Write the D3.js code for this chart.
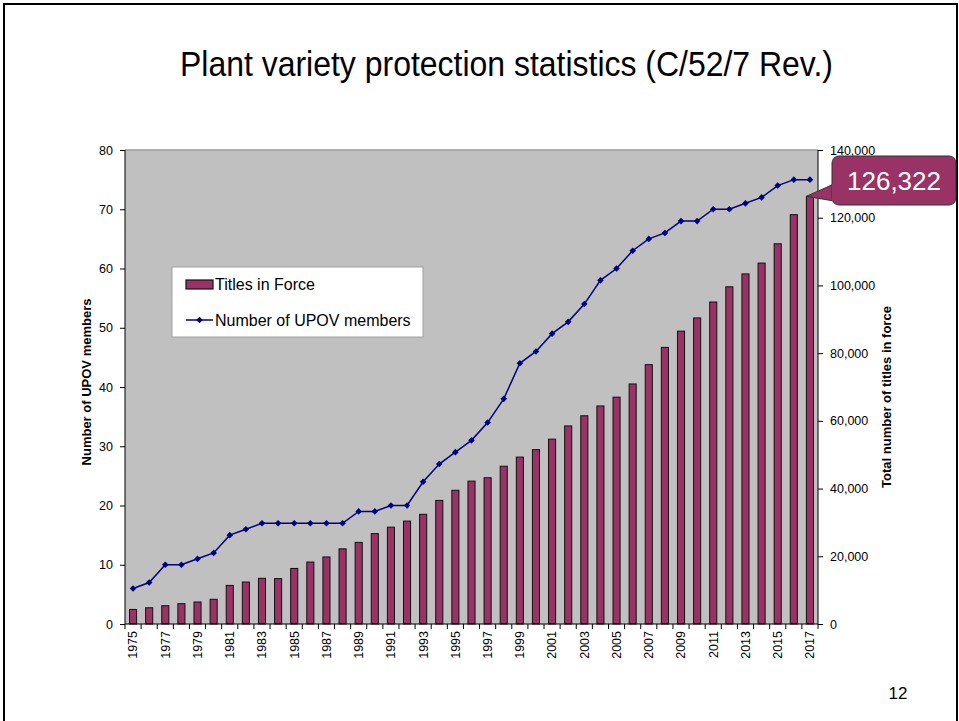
<!DOCTYPE html>
<html>
<head>
<meta charset="utf-8">
<script src="https://cdn.jsdelivr.net/npm/d3@7"></script>
<style>
  body { margin: 0; background: #fff; }
  svg { display: block; font-family: Arial, "Liberation Sans", sans-serif; }
  .axis text { font-size: 12.5px; fill: #000; }
  .axis path, .axis line { stroke: #000; }
  .xaxis text { font-size: 12.5px; }
</style>
</head>
<body>
<div id="chart"></div>
<script>
// data
let years = d3.range(1975, 2018).map(String)
let members = [6,7,10,10,11,12,
               15,16,17,17,17,17,17,17,
               19,19,20,20,24,27,29,31,
               34,38,44,46,49,51,54,58,
               60,63,65,66,68,68,70,70,
               71,72,74,75,75]
let titles = [4300,4800,5400,6000,6500,7300,
              11400,12400,13500,13400,16400,18300,19800,22200,
              24100,26700,28600,30400,32400,36500,39500,42200,
              43200,46600,49300,51500,54600,58500,61500,64400,
              67000,70900,76600,81700,86500,90400,95100,99600,
              103400,106600,112300,120900,126322]
let leftTicks = [0,10,20,30,40,50,60,70,80]
let rightTicks = [0,20000,40000,60000,80000,100000,120000,140000]
let seriesNames = ["Titles in Force", "Number of UPOV members"]
let callout = "126,322"

let barColor = "#993366", lineColor = "#000080"

let W = 959, H = 721
let margin = {top: 150, left: 125, right: 141, bottom: 97}
let width = W - margin.left - margin.right,
    height = H - margin.top - margin.bottom

let svg = d3.select("#chart").append("svg")
  .attr("width", W).attr("height", H)

// slide frame
svg.append("rect")
  .attr("x", 4).attr("y", 4).attr("width", 953).attr("height", 740)
  .attr("fill", "none").attr("stroke", "#000").attr("stroke-width", 2)

svg.append("text")
  .attr("x", 180).attr("y", 76)
  .attr("textLength", 653).attr("lengthAdjust", "spacingAndGlyphs")
  .style("font-size", "35px")
  .text("Plant variety protection statistics (C/52/7 Rev.)")

svg.append("text")
  .attr("x", 898).attr("y", 699)
  .attr("text-anchor", "middle")
  .style("font-size", "17px")
  .text("12")

let g = svg.append("g")
  .attr("transform", "translate(" + margin.left + "," + margin.top + ")")

let x = d3.scaleBand().domain(years).range([0, width]).padding(0)
let yL = d3.scaleLinear().domain([0, 80]).range([height, 0])
let yR = d3.scaleLinear().domain([0, 140000]).range([height, 0])

// plot area
g.append("rect")
  .attr("width", width).attr("height", height)
  .attr("fill", "#c0c0c0")
g.append("line")
  .attr("x1", 0).attr("x2", width).attr("y1", 0).attr("y2", 0)
  .attr("stroke", "#9a9a9a").attr("stroke-width", 1.5)

// bars
let bw = x.bandwidth() * 0.44
g.selectAll("rect.bar")
  .data(titles)
  .enter().append("rect")
  .attr("class", "bar")
  .attr("x", (d, i) => x(years[i]) + (x.bandwidth() - bw) / 2)
  .attr("y", d => yR(d))
  .attr("width", bw)
  .attr("height", d => height - yR(d))
  .attr("fill", barColor)
  .attr("stroke", "#111").attr("stroke-width", 1)

// members line
let line = d3.line()
  .x((d, i) => x(years[i]) + x.bandwidth() / 2)
  .y(d => yL(d))
g.append("path")
  .datum(members)
  .attr("d", line)
  .attr("fill", "none")
  .attr("stroke", lineColor).attr("stroke-width", 1.5)

let diamond = d3.symbol().type(d3.symbolSquare).size(22)
g.selectAll("path.pt")
  .data(members)
  .enter().append("path")
  .attr("class", "pt")
  .attr("d", diamond)
  .attr("transform", (d, i) => "translate(" + (x(years[i]) + x.bandwidth() / 2) + "," + yL(d) + ") rotate(45)")
  .attr("fill", lineColor)

// axes
let leftAxis = g.append("g").attr("class", "axis")
  .call(d3.axisLeft(yL).tickValues(leftTicks).tickSize(5).tickPadding(7))
leftAxis.select(".domain").attr("d", "M0,0V" + height)

let rightAxis = g.append("g").attr("class", "axis")
  .attr("transform", "translate(" + width + ",0)")
  .call(d3.axisRight(yR).tickValues(rightTicks).tickSize(5).tickPadding(7).tickFormat(d3.format(",")))
rightAxis.select(".domain").attr("d", "M0,0V" + height)

let xAxis = g.append("g").attr("class", "axis xaxis")
  .attr("transform", "translate(0," + height + ")")
  .call(d3.axisBottom(x).tickSize(0).tickFormat((d, i) => i % 2 == 0 ? d : ""))
xAxis.select(".domain").attr("d", "M0,0H" + width)
xAxis.selectAll("text")
  .attr("transform", "rotate(-90)")
  .attr("text-anchor", "end")
  .attr("x", -7).attr("y", 0).attr("dy", "0.35em")
// ticks between the categories
xAxis.selectAll("line.sep")
  .data(years.concat(["end"]))
  .enter().append("line")
  .attr("class", "sep")
  .attr("x1", (d, i) => i * x.step()).attr("x2", (d, i) => i * x.step())
  .attr("y1", 0).attr("y2", 5)
  .attr("stroke", "#000")

// axis titles
svg.append("text")
  .attr("transform", "translate(91,382) rotate(-90)")
  .attr("text-anchor", "middle")
  .style("font-size", "13px").style("font-weight", "bold")
  .text("Number of UPOV members")
svg.append("text")
  .attr("transform", "translate(891,397) rotate(-90)")
  .attr("text-anchor", "middle")
  .style("font-size", "13px").style("font-weight", "bold")
  .text("Total number of titles in force")

// legend
let legend = svg.append("g").attr("transform", "translate(172,267)")
legend.append("rect")
  .attr("width", 251).attr("height", 70)
  .attr("fill", "#fff").attr("stroke", "#a0a0a0")
legend.append("rect")
  .attr("x", 14).attr("y", 13).attr("width", 27).attr("height", 9)
  .attr("fill", barColor).attr("stroke", "#111").attr("stroke-width", 1.2)
legend.append("line")
  .attr("x1", 14).attr("x2", 41).attr("y1", 53).attr("y2", 53)
  .attr("stroke", lineColor).attr("stroke-width", 1.5)
legend.append("path")
  .attr("d", diamond)
  .attr("transform", "translate(27.5,53) rotate(45)")
  .attr("fill", lineColor)
legend.selectAll("text.lg")
  .data(seriesNames)
  .enter().append("text")
  .attr("class", "lg")
  .attr("x", 43).attr("y", (d, i) => 23 + i * 36)
  .style("font-size", "16px")
  .text(d => d)

// callout for the last year
let last = titles.length - 1
let tipX = margin.left + x(years[last]) + (x.bandwidth() - bw) / 2,
    tipY = margin.top + yR(titles[last])
let cx = 832, cy = 156, cw = 124, ch = 49
let co = svg.append("g")
co.append("path")
  .attr("d", "M" + tipX + "," + tipY + " L" + (cx + 2) + "," + (cy + 28) + " L" + (cx + 2) + "," + (cy + 45) + "Z")
  .attr("fill", barColor).attr("stroke", "#333").attr("stroke-width", 1)
co.append("rect")
  .attr("x", cx).attr("y", cy).attr("width", cw).attr("height", ch)
  .attr("rx", 7)
  .attr("fill", barColor).attr("stroke", "#333").attr("stroke-width", 1)
co.append("path")
  .attr("d", "M" + (cx + 1) + "," + (cy + 28) + " L" + (cx + 1) + "," + (cy + 45))
  .attr("stroke", barColor).attr("stroke-width", 2)
co.append("text")
  .attr("x", cx + cw / 2).attr("y", cy + 34)
  .attr("text-anchor", "middle")
  .attr("fill", "#fff")
  .style("font-size", "26px")
  .text(callout)
</script>
</body>
</html>
